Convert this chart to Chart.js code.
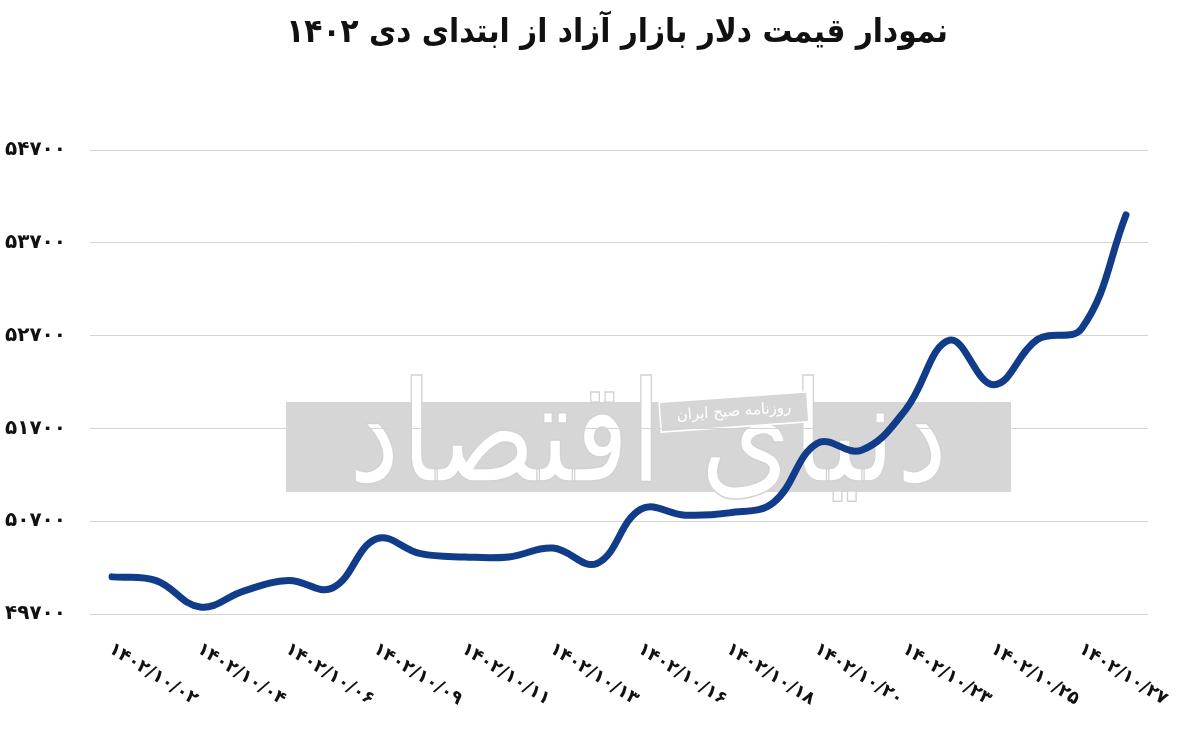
<!DOCTYPE html>
<html>
<head>
<meta charset="utf-8">
<script src="https://cdn.jsdelivr.net/npm/chart.js@4.4.1/dist/chart.umd.min.js"></script>
<style>
  html, body { margin: 0; padding: 0; background: #fff; }
  #wrap { width: 1200px; height: 734px; }
</style>
</head>
<body>
<div id="wrap"><canvas id="myChart"></canvas></div>
<script>
const dates = [
    "۱۴۰۲/۱۰/۰۲", "۱۴۰۲/۱۰/۰۳", "۱۴۰۲/۱۰/۰۴", "۱۴۰۲/۱۰/۰۵", "۱۴۰۲/۱۰/۰۶", "۱۴۰۲/۱۰/۰۷",
    "۱۴۰۲/۱۰/۰۹", "۱۴۰۲/۱۰/۱۰", "۱۴۰۲/۱۰/۱۱", "۱۴۰۲/۱۰/۱۲", "۱۴۰۲/۱۰/۱۳", "۱۴۰۲/۱۰/۱۴",
    "۱۴۰۲/۱۰/۱۶", "۱۴۰۲/۱۰/۱۷", "۱۴۰۲/۱۰/۱۸", "۱۴۰۲/۱۰/۱۹", "۱۴۰۲/۱۰/۲۰", "۱۴۰۲/۱۰/۲۱",
    "۱۴۰۲/۱۰/۲۳", "۱۴۰۲/۱۰/۲۴", "۱۴۰۲/۱۰/۲۵", "۱۴۰۲/۱۰/۲۶", "۱۴۰۲/۱۰/۲۷", "۱۴۰۲/۱۰/۲۸",
];

// free market dollar price (toman)
const prices = [
    50100, 50060, 49775, 49950, 50060, 49980,
    50510, 50350, 50315, 50315, 50410, 50245,
    50830, 50765, 50790, 50900, 51540, 51465,
    51900, 52650, 52170, 52660, 52780, 54000,
];

const yTicks = [49700, 50700, 51700, 52700, 53700, 54700];

const title = "نمودار قیمت دلار بازار آزاد از ابتدای دی ۱۴۰۲";

function toFa(s) {
    return String(s).replace(/[0-9]/g, (d) => "۰۱۲۳۴۵۶۷۸۹"[d]);
}

// gray watermark box behind the plot
const watermark = {
    id: "watermark",
    beforeDraw(chart) {
        const ctx = chart.ctx;
        ctx.save();
        ctx.fillStyle = "#fff";
        ctx.fillRect(0, 0, chart.width, chart.height);
        ctx.fillStyle = "#d6d6d6";
        ctx.fillRect(286, 402, 725, 90);

        ctx.font = "140px 'DejaVu Sans'";
        ctx.textAlign = "center";
        ctx.textBaseline = "middle";
        const w = ctx.measureText("دنیای اقتصاد").width;
        ctx.translate(648, 445);
        ctx.scale(600 / w, 1);
        ctx.fillStyle = "#fff";
        ctx.strokeStyle = "#d2d2d2";
        ctx.lineWidth = 1.5;
        ctx.fillText("دنیای اقتصاد", 0, 0);
        ctx.strokeText("دنیای اقتصاد", 0, 0);
        ctx.restore();

        ctx.save();
        ctx.translate(734, 412);
        ctx.rotate(-4 * Math.PI / 180);
        ctx.fillStyle = "#d6d6d6";
        ctx.fillRect(-74, -15, 148, 30);
        ctx.strokeStyle = "#fff";
        ctx.lineWidth = 1.5;
        ctx.strokeRect(-74, -15, 148, 30);
        ctx.fillStyle = "#fff";
        ctx.font = "15px 'DejaVu Sans'";
        ctx.textAlign = "center";
        ctx.textBaseline = "middle";
        ctx.fillText("روزنامه صبح ایران", 0, 0);
        ctx.restore();
    },
};

// title sits a bit right of the page centre, as in the source image
const titleText = {
    id: "titleText",
    afterDraw(chart) {
        const ctx = chart.ctx;
        ctx.save();
        ctx.font = "bold 33px 'DejaVu Sans Condensed', 'DejaVu Sans'";
        ctx.fillStyle = "#111";
        ctx.textAlign = "center";
        ctx.textBaseline = "middle";
        ctx.fillText(title, 617, 33);
        ctx.restore();
    },
};

// x labels slant down to the right, every second date
const slantLabels = {
    id: "slantLabels",
    afterDraw(chart) {
        const ctx = chart.ctx;
        const x = chart.scales.x;
        ctx.save();
        ctx.font = "bold 18px 'DejaVu Sans'";
        ctx.fillStyle = "#111";
        ctx.textAlign = "left";
        ctx.textBaseline = "top";
        dates.forEach((d, i) => {
            if (i % 2) return;
            ctx.save();
            ctx.translate(x.getPixelForValue(i) + 3, 640);
            ctx.rotate(32 * Math.PI / 180);
            ctx.fillText(d, 0, 0);
            ctx.restore();
        });
        ctx.restore();
    },
};

const config = {
    type: "line",
    data: {
        labels: dates,
        datasets: [
            {
                label: "قیمت دلار",
                data: prices,
                borderColor: "#103c8a",
                backgroundColor: "#103c8a",
                borderWidth: 7,
                borderCapStyle: "round",
                borderJoinStyle: "round",
                tension: 0.4,
                pointRadius: 0,
                fill: false,
            },
        ],
    },
    options: {
        responsive: true,
        maintainAspectRatio: false,
        animation: false,
        layout: { padding: { left: 0, right: 52, top: 150, bottom: 120 } },
        plugins: {
            legend: { display: false },
            tooltip: { enabled: false },
            title: { display: false },
        },
        scales: {
            x: {
                display: false,
                offset: true,
            },
            y: {
                min: 49700,
                max: 54700,
                afterBuildTicks: (s) => {
                    s.ticks = yTicks.map((v) => ({ value: v }));
                },
                afterFit: (s) => {
                    s.width = 90;
                },
                border: { display: false },
                grid: { color: "#d4d4d4", lineWidth: 1, drawTicks: false },
                ticks: {
                    padding: 24,
                    color: "#111",
                    font: { family: "'DejaVu Sans'", size: 20, weight: "bold" },
                    callback: (v) => toFa(v),
                },
            },
        },
    },
    plugins: [watermark, titleText, slantLabels],
};

new Chart(document.getElementById("myChart"), config);
</script>
</body>
</html>
